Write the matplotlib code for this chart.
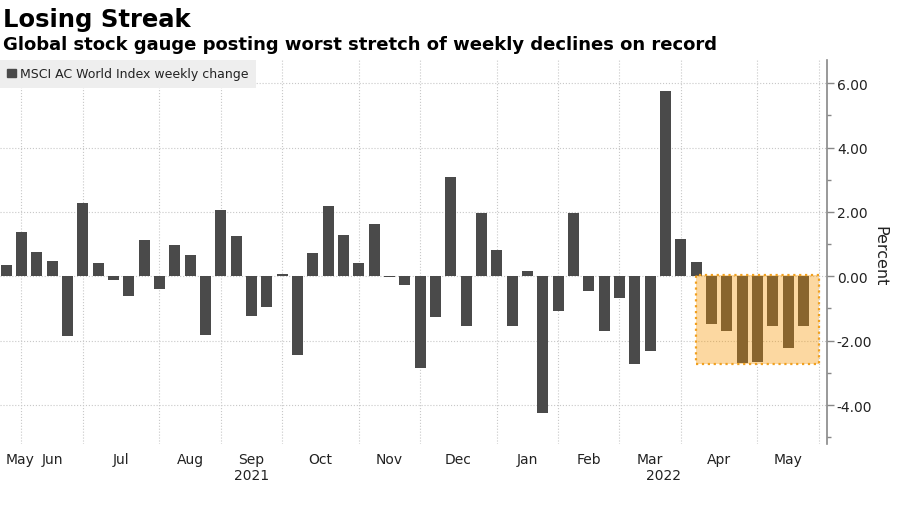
import matplotlib
matplotlib.use('Agg')
import matplotlib.pyplot as plt
import matplotlib.patches as mpatches
import matplotlib.transforms as mtrans
import pandas as pd

weeks = pd.date_range('2021-05-21', periods=53, freq='W-FRI')
weekly_change = [0.35, 1.38, 0.76, 0.48, -1.87, 2.29, 0.40, -0.13, -0.60, 1.12,
                 -0.39, 0.98, 0.67, -1.83, 2.05, 1.25, -1.22, -0.97, 0.06, -2.45,
                 0.72, 2.17, 1.28, 0.42, 1.61, -0.02, -0.26, -2.84, -1.27, 3.07,
                 -1.55, 1.96, 0.82, -1.53, 0.17, -4.25, -1.07, 1.96, -0.46, -1.70,
                 -0.67, -2.73, -2.32, 5.75, 1.16, 0.45, -1.48, -1.70, -2.69, -2.67,
                 -1.53, -2.24, -1.53]
month_names = ['May', 'Jun', 'Jul', 'Aug', 'Sep', 'Oct', 'Nov', 'Dec',
               'Jan', 'Feb', 'Mar', 'Apr', 'May']
year_labels = ['2021', '2022']
streak_len = 7

bar_color = '#4a4a4a'

fig = plt.figure(figsize=(9, 5.06), dpi=100)
ax = fig.add_axes([0.0, 0.1206, 0.919, 0.7589])

ax.bar(weeks, weekly_change, width=5.0, color=bar_color, zorder=2)

xmin = weeks[0] - pd.Timedelta(days=2.8)
xmax = weeks[-1] + pd.Timedelta(days=10.8)
ax.set_xlim(xmin, xmax)
ax.set_ylim(-5.21, 6.72)

# gridlines on the last Friday of each month
fridays = pd.date_range('2021-04-01', '2022-05-31', freq='W-FRI')
month_ends = pd.Series(fridays).groupby([fridays.year, fridays.month]).max().tolist()
ax.set_xticks(month_ends[1:])
ax.tick_params(axis='x', which='major', length=0, labelbottom=False)

# month labels centred between gridlines
label_x = [a + (b - a) / 2 for a, b in zip(month_ends[:-1], month_ends[1:])]
label_x[0] = xmin + pd.Timedelta(days=9)
ax.set_xticks(label_x, minor=True)
ax.set_xticklabels(month_names, minor=True)
ax.tick_params(axis='x', which='minor', length=0, pad=6, labelsize=10, labelcolor='#222222')

trans = mtrans.blended_transform_factory(ax.transData, ax.transAxes)
ax.text(label_x[4], -0.08, year_labels[0], transform=trans, ha='center', va='center',
        fontsize=10, color='#222222')
ax.text(label_x[10] + pd.Timedelta(days=6), -0.08, year_labels[1], transform=trans,
        ha='center', va='center', fontsize=10, color='#222222')

# y axis on the right
ax.yaxis.tick_right()
ax.set_yticks([-4, -2, 0, 2, 4, 6])
ax.set_yticks([-5, -3, -1, 1, 3, 5], minor=True)
ax.yaxis.set_major_formatter(matplotlib.ticker.FormatStrFormatter('%.2f'))
ax.tick_params(axis='y', which='major', length=5, width=1, color='#888888',
               labelsize=10, labelcolor='#222222', pad=2)
ax.tick_params(axis='y', which='minor', length=3, width=1, color='#888888')
ax.yaxis.set_label_position('right')
ax.set_ylabel('Percent', rotation=270, fontsize=11.5, color='#222222')
ax.yaxis.set_label_coords(1.0725, 0.492)

for side in ['left', 'top', 'bottom']:
    ax.spines[side].set_visible(False)
ax.spines['right'].set_color('#888888')
ax.spines['right'].set_linewidth(1.2)

ax.grid(True, which='major', linestyle=':', color='#c8c8c8', linewidth=0.8, zorder=0)
ax.set_axisbelow(True)

# highlight the losing streak
rect_left = weeks[-streak_len - 1]
rect_right = weeks[-1] + pd.Timedelta(days=7)
rect_bottom = min(weekly_change[-streak_len:]) - 0.05
rect = mpatches.Rectangle((rect_left, rect_bottom), rect_right - rect_left, 0.05 - rect_bottom,
                          facecolor=(0.97, 0.59, 0.0, 0.37), edgecolor='#f0a020',
                          linestyle=':', linewidth=1.6, zorder=3)
ax.add_patch(rect)

handle = mpatches.Patch(color=bar_color, label='MSCI AC World Index weekly change')
leg = ax.legend(handles=[handle], loc='upper left', bbox_to_anchor=(0.0, 1.0),
                borderaxespad=0, frameon=True, fancybox=False, fontsize=9,
                handlelength=0.7, handleheight=0.7, handletextpad=0.3,
                borderpad=0.6, labelcolor='#222222')
leg.get_frame().set_facecolor('#eeeeee')
leg.get_frame().set_edgecolor('none')
leg.get_frame().set_alpha(1)

fig.text(0.003, 1 - 26.7 / 506, 'Losing Streak', fontsize=17.5, fontweight='bold',
         va='baseline', ha='left', color='black')
fig.text(0.003, 1 - 50 / 506, 'Global stock gauge posting worst stretch of weekly declines on record',
         fontsize=13, fontweight='bold', va='baseline', ha='left', color='black')

fig.savefig('out.png', dpi=100)
